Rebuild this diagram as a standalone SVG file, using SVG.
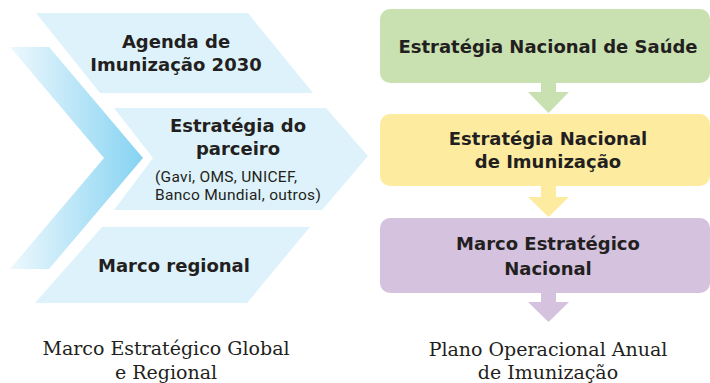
<svg xmlns="http://www.w3.org/2000/svg" width="710" height="383" viewBox="0 0 710 383">
  <defs>
    <linearGradient id="chev" x1="10" y1="0" x2="143" y2="0" gradientUnits="userSpaceOnUse">
      <stop offset="0" stop-color="#eef8fd"/>
      <stop offset="1" stop-color="#86d3f2"/>
    </linearGradient>
    <style>
      .lb { fill: #def2fb; }
      .b { font-family: "DejaVu Sans", "Open Sans", sans-serif; font-weight: 700; font-size: 18px; fill: #231f20; text-anchor: middle; }
      .n { font-family: Roboto, "Liberation Sans", sans-serif; font-size: 15.5px; letter-spacing: 0.3px; fill: #231f20; }
      .s { font-family: "DejaVu Serif", "Liberation Serif", serif; font-size: 19px; fill: #231f20; text-anchor: middle; }
      .green { fill: #c9e1b1; }
      .yellow { fill: #fdeca0; }
      .purple { fill: #d4c2df; }
    </style>
  </defs>
  <rect width="710" height="383" fill="#ffffff"/>

  <g id="chevron-global">
    <polygon points="10,47 49,47 143,158 49,269 10,269 104,158" fill="url(#chev)"/>
  </g>

  <g id="agenda">
    <polygon class="lb" points="36,13 248,13 313,93 100,93"/>
    <text class="b" x="176" y="48">Agenda de</text>
    <text class="b" x="176" y="71">Imunização 2030</text>
  </g>

  <g id="parceiro">
    <polygon class="lb" points="114,108 326,108 368,156 322,210 114,210 153,158"/>
    <text class="b" x="238" y="132">Estratégia do</text>
    <text class="b" x="238" y="155">parceiro</text>
    <text class="n" x="155" y="181.5">(Gavi, OMS, UNICEF,</text>
    <text class="n" x="155" y="200">Banco Mundial, outros)</text>
  </g>

  <g id="marco-regional">
    <polygon class="lb" points="102,227 310,227 247,303 35,303"/>
    <text class="b" x="174" y="272">Marco regional</text>
  </g>

  <g id="label-global">
    <text class="s" x="166" y="355">Marco Estratégico Global</text>
    <text class="s" x="166" y="379">e Regional</text>
  </g>

  <g id="ens">
    <rect class="green" x="380" y="9" width="330" height="74" rx="10"/>
    <text class="b" x="548" y="53">Estratégia Nacional de Saúde</text>
  </g>

  <g id="eni">
    <rect class="yellow" x="380" y="114" width="330" height="72" rx="10"/>
    <text class="b" x="548" y="145">Estratégia Nacional</text>
    <text class="b" x="548" y="168">de Imunização</text>
  </g>

  <g id="men">
    <rect class="purple" x="380" y="218" width="330" height="75" rx="10"/>
    <text class="b" x="548" y="250">Marco Estratégico</text>
    <text class="b" x="548" y="275">Nacional</text>
  </g>

  <g id="label-plano">
    <text class="s" x="548" y="356">Plano Operacional Anual</text>
    <text class="s" x="548" y="379">de Imunização</text>
  </g>

  <g id="connectors">
    <polygon class="green" points="541,82 556,82 556,92 569,92 548.5,113 528,92 541,92"/>
    <polygon class="yellow" points="541,185 556,185 556,197 569,197 548.5,217 528,197 541,197"/>
    <polygon class="purple" points="541,292 556,292 556,302 569,302 548.5,322 528,302 541,302"/>
  </g>
</svg>
